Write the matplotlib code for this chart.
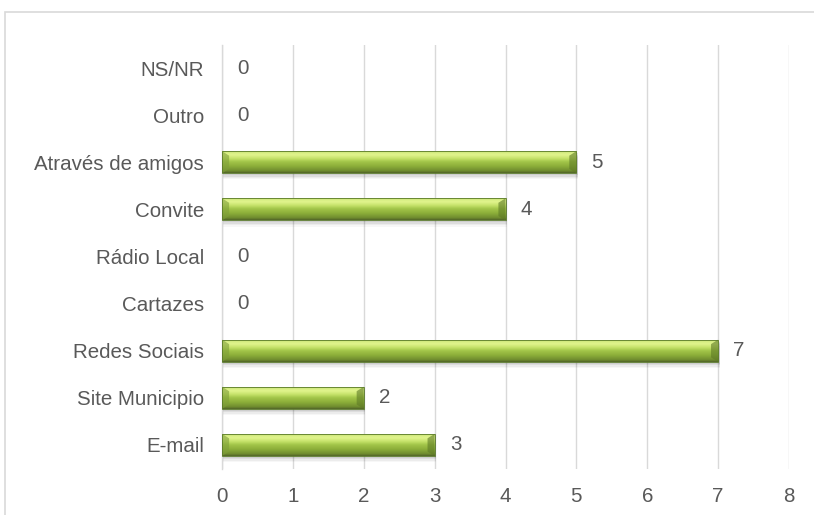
import numpy as np
import matplotlib
matplotlib.use("Agg")
import matplotlib.pyplot as plt
from matplotlib.patches import Rectangle, Polygon
from matplotlib.colors import LinearSegmentedColormap

categories = ["E-mail", "Site Municipio", "Redes Sociais", "Cartazes", "Rádio Local",
              "Convite", "Através de amigos", "Outro", "NS/NR"]
values = [3, 2, 7, 0, 0, 4, 5, 0, 0]
xticks = [0, 1, 2, 3, 4, 5, 6, 7, 8]

plt.rcParams['font.family'] = ['Liberation Sans', 'DejaVu Sans']
W, H = 814, 515
fig = plt.figure(figsize=(W/100, H/100), dpi=100)
fig.patches.append(Rectangle((5/W, -0.1), 1.2, 1 - 12/H + 0.1, transform=fig.transFigure,
                             fill=False, edgecolor='#D9D9D9', linewidth=1.2))
ax = fig.add_axes([222/W, 1 - 468.5/H, (789-222)/W, (468.5-44.5)/H])

y = np.arange(len(categories))
bh = 0.47
bars = ax.barh(y, values, height=bh, color='#9BBB59', edgecolor='none', zorder=3)

cmap = LinearSegmentedColormap.from_list('g', [
    (0.0, '#4F6228'), (0.08, '#6E8A2E'), (0.3, '#8DAF3A'), (0.5, '#A3C64A'),
    (0.62, '#C2E066'), (0.8, '#E2F58E'), (0.92, '#D2EA7E'), (1.0, '#9CBB50')])
grad = np.linspace(0, 1, 100).reshape(-1, 1)
for b, v in zip(bars, values):
    if v <= 0:
        continue
    x0, y0, w, h = b.get_x(), b.get_y(), b.get_width(), b.get_height()
    for k, a in enumerate([0.07, 0.06, 0.045, 0.03]):
        ax.add_patch(Rectangle((x0 + 0.02, y0 - 0.04 - k*0.03), w, h, color='black',
                               alpha=a, zorder=2, linewidth=0))
    im = ax.imshow(grad, extent=[x0, x0 + w, y0, y0 + h], origin='lower', aspect='auto',
                   cmap=cmap, zorder=4, interpolation='bicubic')
    im.set_clip_path(b)
    dx = 0.1
    ax.add_patch(Polygon([[x0, y0 + h], [x0 + dx, y0 + h*0.8], [x0 + dx, y0 + h*0.2], [x0, y0]],
                         closed=True, color='#7F9F3A', alpha=0.6, zorder=5, linewidth=0))
    ax.add_patch(Polygon([[x0 + w, y0 + h], [x0 + w - dx, y0 + h*0.8], [x0 + w - dx, y0 + h*0.2], [x0 + w, y0]],
                         closed=True, color='#5E7A26', alpha=0.6, zorder=5, linewidth=0))
    ax.add_patch(Rectangle((x0, y0), w, h, fill=False, edgecolor='#5A7A2A', linewidth=0.6, zorder=6))

FS = 14.8
TC = '#595959'
for yi, v in zip(y, values):
    ax.annotate(str(v), xy=(v, yi), xytext=(21, 0), textcoords='offset pixels',
                ha='center', va='center', fontsize=FS, color=TC)

ax.set_xlim(0, 8)
ax.set_ylim(-0.5, len(categories) - 0.5)
ax.set_xticks(xticks)
ax.set_yticks(y)
ax.set_yticklabels(categories)
ax.tick_params(axis='both', length=0, labelsize=FS, labelcolor=TC)
ax.tick_params(axis='x', pad=13.5)
ax.tick_params(axis='y', pad=13)
ax.grid(axis='x', color='#D9D9D9', linewidth=1.0, zorder=0)
ax.set_axisbelow(True)
for s in ['top', 'right', 'bottom']:
    ax.spines[s].set_visible(False)
ax.spines['left'].set_color('#D9D9D9')
ax.spines['left'].set_linewidth(1.0)

fig.savefig('out.png', dpi=100)
